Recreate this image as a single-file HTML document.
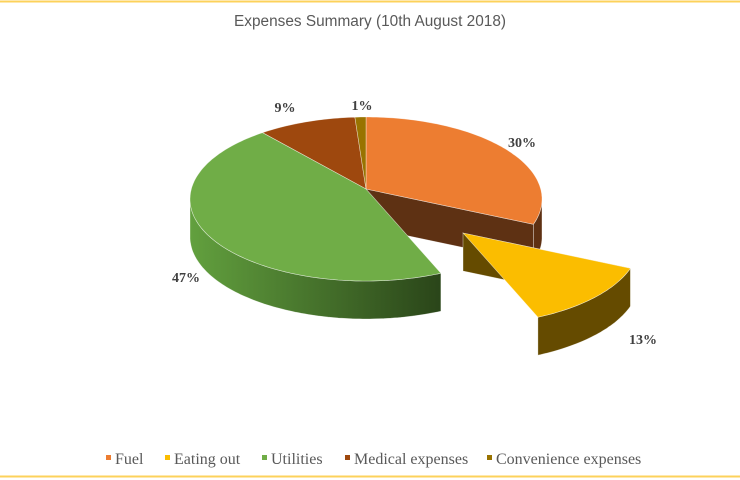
<!DOCTYPE html>
<html><head><meta charset="utf-8"><style>
html,body{margin:0;padding:0;background:#fff;}
svg{display:block;}
</style></head><body>
<svg id="chart" width="740" height="480" viewBox="0 0 740 480" xmlns="http://www.w3.org/2000/svg">
<defs>
<linearGradient id="gWall" x1="0" x2="1" y1="0" y2="0"><stop offset="0" stop-color="#62a03e"/><stop offset="1" stop-color="#2a4519"/></linearGradient>
</defs>
<line x1="0" y1="1.5" x2="740" y2="1.5" stroke="#fcd25b" stroke-width="2"/>
<line x1="0" y1="476.5" x2="740" y2="476.5" stroke="#fcd25b" stroke-width="2"/>
<text x="370" y="26" text-anchor="middle" font-family="Liberation Sans, sans-serif" font-size="15.5" fill="#595959" textLength="272" lengthAdjust="spacingAndGlyphs">Expenses Summary (10th August 2018)</text>
<g id="pie"></g>
<g id="labels"></g>
<g id="legend"></g>
</svg>
<script>
const categories = ["Fuel","Eating out","Utilities","Medical expenses","Convenience expenses"];
const values = [30,13,47,9,1];
const labels = ["30%","13%","47%","9%","1%"];
const colors = ["#ED7D31","#FBBD00","#70AD47","#9E480E","#997300"];
const wallColors = ["#5e3113","#654b00","url(#gWall)","#5e2a08","#5c4500"];

const NS="http://www.w3.org/2000/svg";
const cx=366, cy=199, rx=176, ry=82, depth=38, apexY=189;
const explodeIdx=1, exDx=97, exDy=44;
const total=values.reduce((a,b)=>a+b,0);
const pie=document.getElementById('pie');
function P(t,ox,oy,dz){return [cx+ox+rx*Math.sin(t), cy+oy-ry*Math.cos(t)+(dz||0)];}
function arcPts(t0,t1,ox,oy,dz){const pts=[];const n=Math.max(2,Math.ceil((t1-t0)/0.02));for(let i=0;i<=n;i++)pts.push(P(t0+(t1-t0)*i/n,ox,oy,dz));return pts;}
function poly(pts,fill,name){const e=document.createElementNS(NS,'path');
e.setAttribute('d','M'+pts.map(p=>p[0].toFixed(1)+','+p[1].toFixed(1)).join('L')+'Z');
e.setAttribute('fill',fill);e.setAttribute('stroke','#fff');e.setAttribute('stroke-width','0.6');e.setAttribute('stroke-opacity','0.6');


pie.appendChild(e);}
let acc=0;const slices=values.map((v,i)=>{const t0=acc/total*2*Math.PI;acc+=v;const t1=acc/total*2*Math.PI;return {i,t0,t1};});
function off(i){return i===explodeIdx?[exDx,exDy]:[0,0];}
function drawWalls(s){const [ox,oy]=off(s.i);
 const c=[cx+ox,apexY+oy];
 if(s.i===0){const a=P(s.t1,ox,oy);poly([c,a,[a[0],a[1]+depth],[c[0],c[1]+depth]],wallColors[s.i],'wall-radial-'+s.i);}
 if(s.i===explodeIdx){const a=P(s.t0,ox,oy);poly([c,a,[a[0],a[1]+depth],[c[0],c[1]+depth]],wallColors[s.i],'wall-radial-'+s.i);}
 const a0=Math.max(s.t0,Math.PI/2),a1=Math.min(s.t1,1.5*Math.PI);
 if(a1>a0){const top=arcPts(a0,a1,ox,oy,0),bot=arcPts(a0,a1,ox,oy,depth).reverse();poly(top.concat(bot),wallColors[s.i],'wall-outer-'+s.i);}
}
function drawTop(s){const [ox,oy]=off(s.i);poly([[cx+ox,apexY+oy]].concat(arcPts(s.t0,s.t1,ox,oy,0)),colors[s.i],'slice-'+categories[s.i].toLowerCase().replace(/ /g,'-'));}
const order=[0,3,4,2,1];
order.forEach(i=>{drawWalls(slices[i]);drawTop(slices[i]);});
const lp=[[522,147],[643,344],[186,282],[285,112],[362,110]];
const lg=document.getElementById('labels');
labels.forEach((l,i)=>{const t=document.createElementNS(NS,'text');
t.setAttribute('x',lp[i][0]);t.setAttribute('y',lp[i][1]);t.setAttribute('text-anchor','middle');
t.setAttribute('font-family','Liberation Serif, serif');t.setAttribute('font-weight','bold');t.setAttribute('font-size','14');t.setAttribute('fill','#404040');
t.textContent=l;


lg.appendChild(t);});
const leg=document.getElementById('legend');
const lx=[106,165,262,345,487];
categories.forEach((c,i)=>{const r=document.createElementNS(NS,'rect');
r.setAttribute('x',lx[i]);r.setAttribute('y',455);r.setAttribute('width',5);r.setAttribute('height',5);r.setAttribute('fill',colors[i]);


leg.appendChild(r);
const t=document.createElementNS(NS,'text');
t.setAttribute('x',lx[i]+9);t.setAttribute('y',464);t.setAttribute('font-family','Liberation Serif, serif');t.setAttribute('font-size','16');t.setAttribute('fill','#595959');
t.textContent=c;


leg.appendChild(t);});
</script>
</body></html>
